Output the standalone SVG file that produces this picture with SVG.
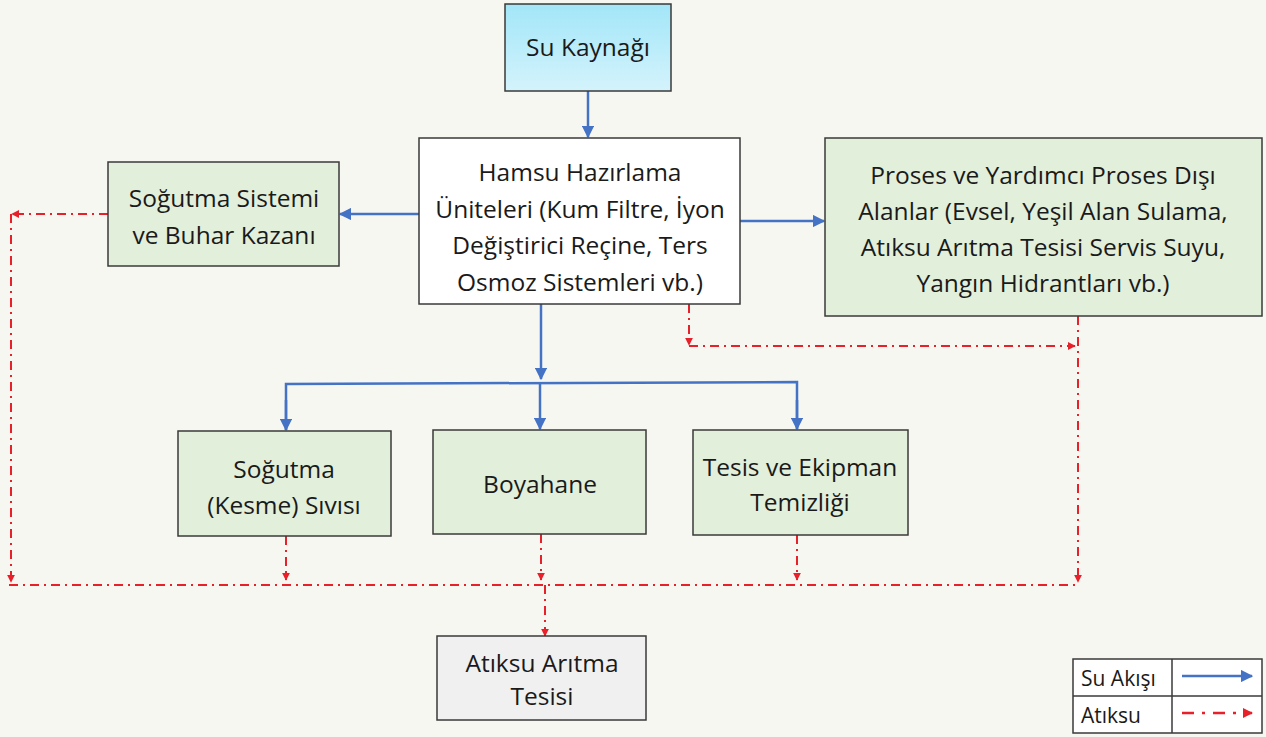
<svg xmlns="http://www.w3.org/2000/svg" width="1266" height="737" viewBox="0 0 1266 737">
<defs>
<linearGradient id="cyan" x1="0" y1="0" x2="0" y2="1">
<stop offset="0" stop-color="#a2e6f8"/>
<stop offset="1" stop-color="#d4f3fc"/>
</linearGradient>
<marker id="ab" viewBox="0 0 10 10" refX="9" refY="5" markerWidth="5" markerHeight="5" orient="auto" markerUnits="strokeWidth">
<path d="M0,0 L10,5 L0,10 z" fill="#4472c4"/>
</marker>
<marker id="ar" viewBox="0 0 10 10" refX="9" refY="5" markerWidth="4" markerHeight="4" orient="auto" markerUnits="strokeWidth">
<path d="M0,0 L10,5 L0,10 z" fill="#e8202a"/>
</marker>
<style>
.box{stroke:#3a3a3a;stroke-width:1.5}
.g{fill:#e2efda}
.t{font-family:"Open Sans","Liberation Sans",sans-serif;font-size:24.5px;fill:#1a1a1a;text-anchor:middle}
.b{fill:none;stroke:#4472c4;stroke-width:2.5}
.r{fill:none;stroke:#e8202a;stroke-width:2;stroke-dasharray:9 5 2 5}
</style>
</defs>
<rect width="1266" height="737" fill="#f7f7f2"/>
<g id="connectors">
<line class="b" x1="588" y1="91" x2="588" y2="137" marker-end="url(#ab)"/>
<line class="b" x1="419" y1="214" x2="340" y2="214" marker-end="url(#ab)"/>
<line class="b" x1="740" y1="221" x2="824" y2="221" marker-end="url(#ab)"/>
<line class="b" x1="541" y1="304" x2="541" y2="379" marker-end="url(#ab)"/>
<polyline class="b" points="286,430 286,384 797,382 797,429" />
<line class="b" x1="286" y1="400" x2="286" y2="430" marker-end="url(#ab)"/>
<line class="b" x1="797" y1="400" x2="797" y2="429" marker-end="url(#ab)"/>
<line class="b" x1="540" y1="383" x2="540" y2="429" marker-end="url(#ab)"/>
<line class="r" x1="108" y1="214" x2="12" y2="214" marker-end="url(#ar)"/>
<line class="r" x1="11" y1="214" x2="11" y2="582" marker-end="url(#ar)"/>
<line class="r" x1="689" y1="304" x2="689" y2="345" marker-end="url(#ar)"/>
<line class="r" x1="689" y1="346" x2="1075" y2="346" marker-end="url(#ar)"/>
<line class="r" x1="1078" y1="316" x2="1078" y2="582" marker-end="url(#ar)"/>
<line class="r" x1="9" y1="585" x2="1080" y2="585"/>
<line class="r" x1="286" y1="536" x2="286" y2="580" marker-end="url(#ar)"/>
<line class="r" x1="541" y1="534" x2="541" y2="580" marker-end="url(#ar)"/>
<line class="r" x1="797" y1="535" x2="797" y2="580" marker-end="url(#ar)"/>
<line class="r" x1="545" y1="585" x2="545" y2="636" marker-end="url(#ar)"/>
</g>
<g id="su-kaynagi">
<rect class="box" x="505" y="4" width="166" height="87" fill="url(#cyan)"/>
<text class="t" x="588" y="56">Su Kaynağı</text>
</g>
<g id="hamsu">
<rect class="box" x="419" y="138" width="321" height="166" fill="#ffffff"/>
<text class="t" x="580" y="181">Hamsu Hazırlama</text>
<text class="t" x="580" y="218">Üniteleri (Kum Filtre, İyon</text>
<text class="t" x="580" y="254">Değiştirici Reçine, Ters</text>
<text class="t" x="580" y="291">Osmoz Sistemleri vb.)</text>
</g>
<g id="sogutma-sistemi">
<rect class="box g" x="108" y="162" width="231" height="104"/>
<text class="t" x="224" y="207">Soğutma Sistemi</text>
<text class="t" x="224" y="244">ve Buhar Kazanı</text>
</g>
<g id="proses-disi">
<rect class="box g" x="825" y="138" width="437" height="178"/>
<text class="t" x="1043" y="184">Proses ve Yardımcı Proses Dışı</text>
<text class="t" x="1043" y="220">Alanlar (Evsel, Yeşil Alan Sulama,</text>
<text class="t" x="1043" y="256">Atıksu Arıtma Tesisi Servis Suyu,</text>
<text class="t" x="1043" y="292">Yangın Hidrantları vb.)</text>
</g>
<g id="sogutma-sivisi">
<rect class="box g" x="178" y="431" width="213" height="105"/>
<text class="t" x="284" y="478">Soğutma</text>
<text class="t" x="284" y="514">(Kesme) Sıvısı</text>
</g>
<g id="boyahane">
<rect class="box g" x="433" y="430" width="213" height="104"/>
<text class="t" x="540" y="493">Boyahane</text>
</g>
<g id="tesis-temizligi">
<rect class="box g" x="693" y="430" width="215" height="105"/>
<text class="t" x="800" y="476">Tesis ve Ekipman</text>
<text class="t" x="800" y="511">Temizliği</text>
</g>
<g id="aritma">
<rect class="box" x="437" y="636" width="209" height="84" fill="#f0f0f0"/>
<text class="t" x="542" y="672">Atıksu Arıtma</text>
<text class="t" x="542" y="705">Tesisi</text>
</g>
<g id="legend">
<rect x="1073" y="659" width="189" height="74" fill="#ffffff" stroke="#3a3a3a" stroke-width="1.5"/>
<line x1="1172" y1="659" x2="1172" y2="733" stroke="#3a3a3a" stroke-width="1.5"/>
<line x1="1073" y1="696" x2="1262" y2="696" stroke="#3a3a3a" stroke-width="1.5"/>
<text class="t" x="1081" y="686" style="text-anchor:start;font-size:21px">Su Akışı</text>
<text class="t" x="1081" y="723" style="text-anchor:start;font-size:21px">Atıksu</text>
<line class="b" x1="1182" y1="676" x2="1252" y2="676" marker-end="url(#ab)"/>
<line class="r" x1="1182" y1="713" x2="1252" y2="713" marker-end="url(#ar)" style="stroke-width:2.5;stroke-dasharray:12 8 3 8"/>
</g>
</svg>
